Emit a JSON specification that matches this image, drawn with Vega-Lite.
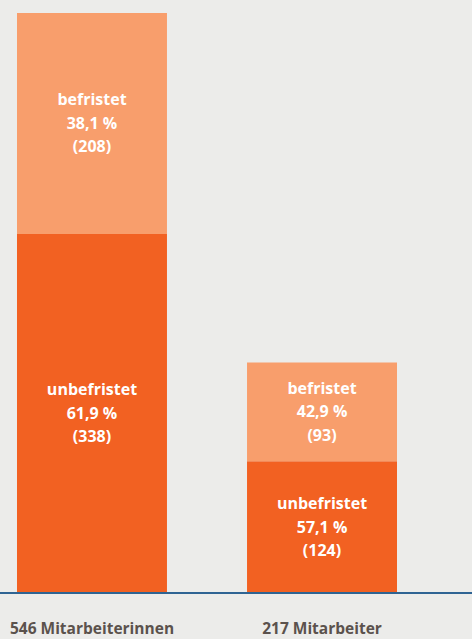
{
  "$schema": "https://vega.github.io/schema/vega-lite/v6.json",
  "width": 472,
  "height": 580,
  "autosize": {"type": "none"},
  "padding": {"top": 13, "left": 0, "right": 0, "bottom": 46},
  "background": "#ECECEA",
  "config": {"view": {"stroke": null}},
  "data": {"values": [
    {"group": "546 Mitarbeiterinnen", "type": "unbefristet", "count": 338, "pct": "61,9 %", "order": 1},
    {"group": "546 Mitarbeiterinnen", "type": "befristet", "count": 208, "pct": "38,1 %", "order": 2},
    {"group": "217 Mitarbeiter", "type": "unbefristet", "count": 124, "pct": "57,1 %", "order": 1},
    {"group": "217 Mitarbeiter", "type": "befristet", "count": 93, "pct": "42,9 %", "order": 2}
  ]},
  "transform": [
    {"stack": "count", "groupby": ["group"], "sort": [{"field": "order"}], "as": ["y0", "y1"]},
    {"calculate": "(datum.y0 + datum.y1) / 2", "as": "ymid"},
    {"calculate": "datum.type + '\\n' + datum.pct + '\\n(' + datum.count + ')'", "as": "label"}
  ],
  "encoding": {
    "x": {
      "field": "group", "type": "nominal",
      "sort": ["546 Mitarbeiterinnen", "217 Mitarbeiter"],
      "scale": {"range": [0, 414], "paddingInner": 0.348, "paddingOuter": 0.0739},
      "axis": {
        "title": null, "ticks": false, "domain": false, "labelAngle": 0,
        "labelFont": "Open Sans", "labelFontSize": 15.5, "labelFontWeight": "bold",
        "labelColor": "#5B524D", "labelPadding": 28, "labelBaseline": "top"
      }
    }
  },
  "layer": [
    {
      "mark": {"type": "bar"},
      "encoding": {
        "y": {"field": "y0", "type": "quantitative", "scale": {"domain": [0, 546], "nice": false}, "axis": null},
        "y2": {"field": "y1"},
        "color": {"field": "type", "type": "nominal", "scale": {"domain": ["unbefristet", "befristet"], "range": ["#F26122", "#F89E6C"]}, "legend": null}
      }
    },
    {
      "mark": {"type": "text", "color": "white", "font": "Open Sans", "fontWeight": "bold", "fontSize": 16, "lineHeight": 23.5, "baseline": "middle", "lineBreak": "\n", "dy": -23},
      "encoding": {
        "y": {"field": "ymid", "type": "quantitative"},
        "text": {"field": "label", "type": "nominal"}
      }
    },
    {
      "mark": {"type": "rule", "color": "#2F6493", "strokeWidth": 1.5},
      "encoding": {"y": {"datum": 0}, "x": {"value": 0}, "x2": {"value": 472}}
    }
  ]
}
